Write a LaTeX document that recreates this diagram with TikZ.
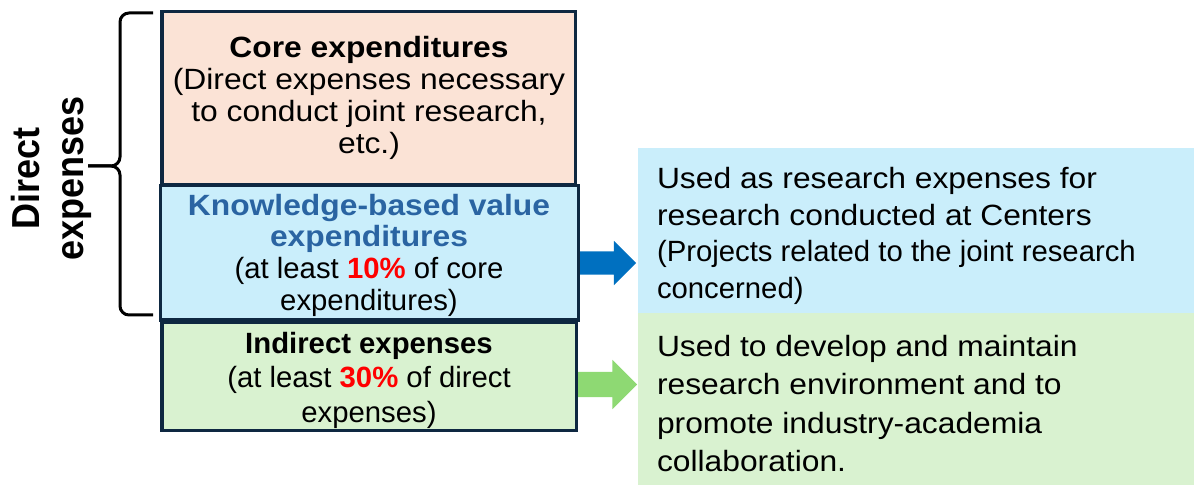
\documentclass[tikz,border=0pt]{standalone}
\usepackage{fontspec}
\setmainfont{Liberation Sans}[FakeStretch=1.085]
\newfontfamily\plainfont{Liberation Sans}
\usetikzlibrary{shapes.arrows}
\definecolor{peach}{HTML}{FBE3D6}
\definecolor{lblue}{HTML}{CAEEFB}
\definecolor{lgreen}{HTML}{D9F2D0}
\definecolor{navy}{HTML}{0E2841}
\definecolor{kblue}{HTML}{2A64A2}
\definecolor{ablue}{HTML}{0070C0}
\definecolor{agreen}{HTML}{8ED973}
\definecolor{pred}{HTML}{FF0000}
\begin{document}
\begin{tikzpicture}[x=1pt,y=-1pt,
  box/.style={draw=navy, line width=3.2pt, inner sep=0pt, outer sep=0pt},
  panel/.style={draw=none, inner sep=0pt, outer sep=0pt},
  txt/.style={inner sep=0pt, outer sep=0pt, align=center, text=black},
  rtxt/.style={inner sep=0pt, outer sep=0pt, align=left, anchor=west, text=black},
  arr/.style={single arrow, draw=none, outer sep=0pt, anchor=tail, single arrow tip angle=90},
  bracepath/.style={draw=black, line width=3pt, rounded corners=9pt}]
\useasboundingbox (0,0) rectangle (1194,486);

% right panels
\node[panel, fill=lblue, minimum width=556.5pt, minimum height=165pt] (rb) at (915.75,230.5) {};
\node[panel, fill=lgreen, minimum width=556.5pt, minimum height=172pt] (rg) at (915.75,399) {};

% arrows
\coordinate (a1) at (576,263);
\coordinate (a2) at (576,384.5);
\node[arr, fill=ablue, inner sep=11.5pt, minimum height=60pt, minimum width=44pt, single arrow head extend=10.5pt] (arrb) at (a1) {};
\node[arr, fill=agreen, inner sep=12.5pt, minimum height=61pt, minimum width=49pt, single arrow head extend=12pt] (arrg) at (a2) {};

% left boxes
\node[box, fill=peach, minimum width=413.5pt, minimum height=173pt] (core) at (368.75,98) {};
\node[box, fill=lgreen, minimum width=414.5pt, minimum height=108.5pt] (ind) at (369.25,376.25) {};
\node[box, fill=lblue, minimum width=418pt, minimum height=134.5pt] (kbv) at (369.5,252.75) {};

% texts in left boxes
\node[txt, font=\fontsize{29.3}{32}\selectfont] (coret) at (369,98.3)
  {\textbf{Core expenditures}\\(Direct expenses necessary\\to conduct joint research,\\etc.)};
\node[txt, font=\fontsize{29.3}{31.7}\selectfont] (kbvt) at (369,255)
  {\textcolor{kblue}{\textbf{Knowledge-based value}}\\\textcolor{kblue}{\textbf{expenditures}}\\{\plainfont (at least \textcolor{pred}{\textbf{10\%}} of core}\\{\plainfont expenditures)}};
\node[txt, font=\plainfont\fontsize{29.3}{34.5}\selectfont] (indt) at (369,380)
  {\textbf{Indirect expenses}\\(at least \textcolor{pred}{\textbf{30\%}} of direct\\expenses)};

% texts in right panels
\node[rtxt, font=\fontsize{29.3}{36.7}\selectfont] (rbt) at (657,235.9)
  {Used as research expenses for\\research conducted at Centers\\{\plainfont (Projects related to the joint research}\\{\plainfont concerned)}};
\node[rtxt, font=\fontsize{29.3}{38.3}\selectfont] (rgt) at (657,403.4)
  {Used to develop and maintain\\research environment and to\\promote industry-academia\\collaboration.};

% brace
\coordinate (bt) at (153,13);
\coordinate (bb) at (153,315);
\coordinate (bm) at (120,166);
\coordinate (btip) at (88,166);
\draw[bracepath] (bt) -| (bm) -- (btip);
\draw[bracepath] (bb) -| (bm) -- (btip);

% rotated label
\coordinate (dpos) at (51,178.5);
\node[txt, font=\plainfont\bfseries\fontsize{36}{40.5}\selectfont, xscale=1.085, rotate=90] (dirlab) at (dpos) {Direct\\expenses};
\end{tikzpicture}
\end{document}
